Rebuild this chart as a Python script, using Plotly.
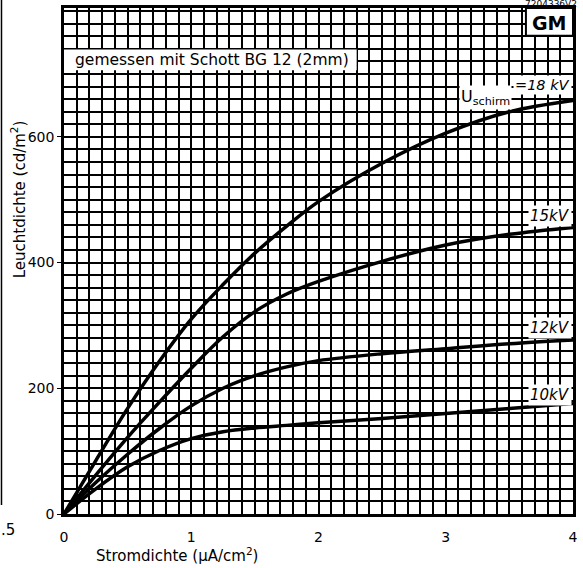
import plotly.graph_objects as go

# Stromdichte (µA/cm²)
x_vals = [0, 0.25, 0.5, 0.75, 1.0, 1.25, 1.5, 1.75, 2.0, 2.5, 3.0, 3.5, 4.0]
# Leuchtdichte (cd/m²) per screen voltage
y_18kv = [0, 85, 168, 243, 310, 365, 415, 458, 497, 558, 606, 640, 658]
y_15kv = [0, 62, 122, 178, 232, 282, 322, 350, 370, 402, 428, 445, 456]
y_12kv = [0, 50, 95, 136, 172, 200, 220, 234, 244, 255, 263, 271, 277]
y_10kv = [0, 40, 75, 101, 120, 131, 137, 141, 145, 152, 160, 168, 176]

x_ticks = [0, 1, 2, 3, 4]
y_ticks = [0, 200, 400, 600]

FONT = "DejaVu Sans"

fig = go.Figure()
for ys in [y_18kv, y_15kv, y_12kv, y_10kv]:
    fig.add_trace(go.Scatter(x=x_vals, y=ys, mode="lines",
                             line=dict(color="black", width=3.5, shape="spline", smoothing=1.0),
                             showlegend=False, hoverinfo="skip"))

fig.update_layout(
    width=583, height=568,
    margin=dict(l=64, r=6, t=5, b=54),
    paper_bgcolor="white", plot_bgcolor="white",
    font=dict(family=FONT, color="black", size=14),
)
fig.update_xaxes(
    range=[0, 4], tickvals=x_ticks, ticktext=[str(v) for v in x_ticks],
    showgrid=True, gridcolor="black", gridwidth=1.5,
    minor=dict(dtick=0.1, showgrid=True, gridcolor="black", gridwidth=1.5),
    showline=True, linecolor="black", linewidth=2.5, mirror=True,
    ticks="", ticklabelstandoff=8, zeroline=False,
    tickfont=dict(size=14, family=FONT),
)
fig.update_yaxes(
    range=[0, 805], tickvals=y_ticks, ticktext=[str(v) for v in y_ticks],
    showgrid=True, gridcolor="black", gridwidth=1.5,
    minor=dict(dtick=20, showgrid=True, gridcolor="black", gridwidth=1.5),
    showline=True, linecolor="black", linewidth=2.5, mirror=True,
    ticks="outside", ticklen=4, tickcolor="black", zeroline=False,
    tickfont=dict(size=14, family=FONT),
)

# white boxes
fig.add_shape(type="rect", xref="x", yref="y", x0=0, x1=2.3, y0=706, y1=739,
              fillcolor="white", line=dict(width=0), layer="above")
fig.add_shape(type="rect", xref="x", yref="y", x0=3.63, x1=4, y0=761, y1=805,
              fillcolor="white", line=dict(color="black", width=2), layer="above")

anns = [
    dict(x=0.07, y=722, text="gemessen mit Schott BG 12 (2mm)", xanchor="left", font=dict(size=15.5)),
    dict(x=3.815, y=781, text="<b>GM</b>", xanchor="center", font=dict(size=19)),
    dict(x=3.31, y=662, text="U<sub>schirm</sub>", xanchor="center", font=dict(size=16), bgcolor="white"),
    dict(x=3.995, y=682, text="<i>=18 kV</i>", xanchor="right", font=dict(size=14.5), bgcolor="white"),
    dict(x=3.995, y=474, text="<i>15kV</i>", xanchor="right", font=dict(size=15), bgcolor="white"),
    dict(x=3.995, y=296, text="<i>12kV</i>", xanchor="right", font=dict(size=15), bgcolor="white"),
    dict(x=3.995, y=190, text="<i>10kV</i>", xanchor="right", font=dict(size=15), bgcolor="white"),
]
for a in anns:
    a.update(xref="x", yref="y", showarrow=False, yanchor="middle")
    fig.add_annotation(**a)

# axis titles
fig.add_annotation(xref="paper", yref="paper", x=(178 - 64) / 513, y=(514 - 555) / 509,
                   xanchor="center", yanchor="middle",
                   text="Stromdichte (µA/cm<sup>2</sup>)", showarrow=False, font=dict(size=15))
fig.add_annotation(xref="paper", yref="paper", x=(18 - 64) / 513, y=(514 - 197) / 509,
                   xanchor="center", yanchor="middle",
                   text="Leuchtdichte (cd/m<sup>2</sup>)", textangle=-90, showarrow=False, font=dict(size=15))
# reference number top right
fig.add_annotation(xref="paper", yref="paper", x=1.012, y=1, xanchor="right", yanchor="bottom", yshift=-3,
                   text="7204336V2", showarrow=False, font=dict(size=9))
# edge of neighbouring chart
fig.add_shape(type="line", xref="paper", yref="paper", x0=(1 - 64) / 513, x1=(1 - 64) / 513,
              y0=(514 - 505) / 509, y1=1.02, line=dict(color="black", width=1.5))
fig.add_annotation(xref="paper", yref="paper", x=(8 - 64) / 513, y=(514 - 530) / 509,
                   xanchor="center", yanchor="middle",
                   text=".5", showarrow=False, font=dict(size=15))

fig.write_html("out.html", config={"displayModeBar": False},
               post_script="document.body.style.margin='0px';document.body.style.overflow='hidden';")
